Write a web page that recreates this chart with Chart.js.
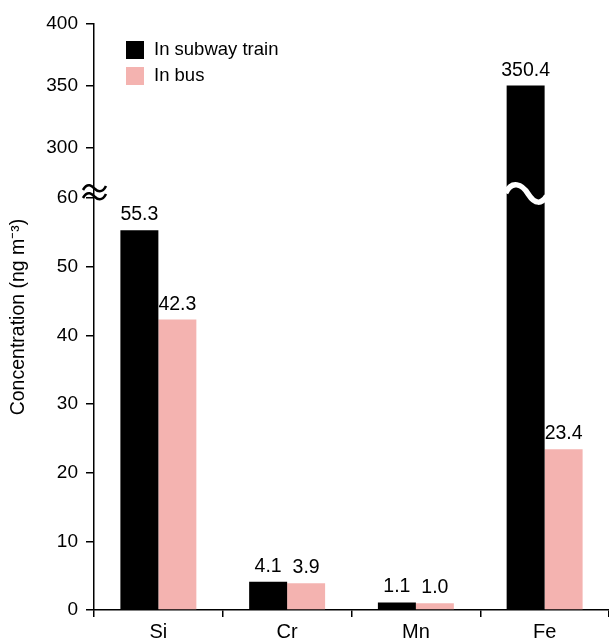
<!DOCTYPE html>
<html>
<head>
<meta charset="utf-8">
<script src="https://cdn.jsdelivr.net/npm/chart.js@4.4.1/dist/chart.umd.min.js"></script>
<style>
   html, body { margin: 0; padding: 0; background: #fff; }
   #wrap { width: 609px; height: 643px; position: relative; }
</style>
</head>
<body>
<div id="wrap"><canvas id="chart"></canvas></div>
<script>
const categories = ["Si", "Cr", "Mn", "Fe"];
const subwayValues = [55.3, 4.1, 1.1, 350.4];
const busValues = [42.3, 3.9, 1.0, 23.4];
const seriesNames = ["In subway train", "In bus"];
const seriesColors = ["#000000", "#F4B3B0"];
const yTickValues = [0, 10, 20, 30, 40, 50, 60, 300, 350, 400];

// broken axis: 0-60 kept as is, 300-400 squeezed and moved down over the gap
const BREAK_LOW = 60;
const BREAK_HIGH = 300;
const GAP = 7.28;
const UPPER_SCALE = 0.1806;

function toAxis(v) {
   if (v <= BREAK_LOW) return v;
   return BREAK_LOW + GAP + (Math.max(v, BREAK_HIGH) - BREAK_HIGH) * UPPER_SCALE;
}

const FONT = "'Liberation Sans', Arial, Helvetica, sans-serif";

// value labels over the bars, legend, and the break marks
const decorations = {
   id: "decorations",
   afterDatasetsDraw(chart) {
      const ctx = chart.ctx;
      const yScale = chart.scales.y;
      const raw = [subwayValues, busValues];

      ctx.save();
      ctx.font = "19.5px " + FONT;
      ctx.fillStyle = "#000";
      ctx.textAlign = "center";
      ctx.textBaseline = "alphabetic";
      chart.data.datasets.forEach((ds, di) => {
         chart.getDatasetMeta(di).data.forEach((bar, i) => {
            ctx.fillText(raw[di][i].toFixed(1), bar.x, bar.y - 10);
         });
      });

      // wave cut on bars that pass the break
      const yBreak = yScale.getPixelForValue(BREAK_LOW) - 6;
      chart.data.datasets.forEach((ds, di) => {
         chart.getDatasetMeta(di).data.forEach((bar, i) => {
            if (raw[di][i] <= BREAK_HIGH) return;
            const l = bar.x - bar.width / 2 - 1;
            const r = bar.x + bar.width / 2 + 2;
            const w = r - l;
            ctx.strokeStyle = "#fff";
            ctx.lineWidth = 5.5;
            ctx.beginPath();
            ctx.moveTo(l, yBreak + 1);
            ctx.bezierCurveTo(l + w * 0.15, yBreak - 12, l + w * 0.4, yBreak - 8, l + w * 0.55, yBreak + 2);
            ctx.bezierCurveTo(l + w * 0.72, yBreak + 13, l + w * 0.88, yBreak + 12, r, yBreak + 4);
            ctx.stroke();
         });
      });

      // ≈ on the y axis
      const ax = yScale.right;
      ctx.strokeStyle = "#000";
      ctx.lineWidth = 2.6;
      [yBreak - 4, yBreak + 4].forEach((yy) => {
         ctx.beginPath();
         ctx.moveTo(ax - 11, yy + 2);
         ctx.bezierCurveTo(ax - 6, yy - 7, ax - 1, yy - 1, ax + 1, yy + 1);
         ctx.bezierCurveTo(ax + 3, yy + 3, ax + 8, yy + 6, ax + 12, yy - 2);
         ctx.stroke();
      });

      // legend
      const lx = 126, ly = 41;
      ctx.textAlign = "left";
      ctx.textBaseline = "middle";
      ctx.font = "18.5px " + FONT;
      seriesNames.forEach((name, i) => {
         ctx.fillStyle = seriesColors[i];
         ctx.fillRect(lx, ly + i * 26, 18, 18);
         ctx.fillStyle = "#000";
         ctx.fillText(name, lx + 28, ly + i * 26 + 9);
      });
      ctx.restore();
   },
};

const ctx = document.getElementById("chart").getContext("2d");
const chart = new Chart(ctx, {
   type: "bar",
   data: {
      labels: categories,
      datasets: [
         {
            label: seriesNames[0],
            data: subwayValues.map(toAxis),
            backgroundColor: seriesColors[0],
            categoryPercentage: 0.59,
            barPercentage: 1.0,
         },
         {
            label: seriesNames[1],
            data: busValues.map(toAxis),
            backgroundColor: seriesColors[1],
            categoryPercentage: 0.59,
            barPercentage: 1.0,
         },
      ],
   },
   options: {
      responsive: true,
      maintainAspectRatio: false,
      animation: false,
      layout: { padding: { top: 24, right: -2, bottom: 0, left: 0 } },
      plugins: {
         legend: { display: false },
         tooltip: { enabled: false },
      },
      scales: {
         x: {
            offset: true,
            border: { display: true, color: "#000", width: 1.5 },
            grid: {
               offset: true,
               drawOnChartArea: false,
               drawTicks: true,
               tickLength: 7,
               color: "#000",
               lineWidth: 1.5,
            },
            ticks: {
               color: "#000",
               padding: 3,
               font: { family: FONT, size: 20 },
            },
            afterFit(scale) {
               scale.height = 33;
            },
         },
         y: {
            min: 0,
            max: toAxis(400),
            border: { display: true, color: "#000", width: 1.5 },
            grid: {
               drawOnChartArea: false,
               drawTicks: true,
               tickLength: 8,
               color: "#000",
               lineWidth: 1.5,
            },
            afterBuildTicks(scale) {
               scale.ticks = yTickValues.map((v) => ({ value: toAxis(v) }));
            },
            ticks: {
               color: "#000",
               padding: 8,
               font: { family: FONT, size: 19 },
               callback: function (value, index) {
                  return String(yTickValues[index]);
               },
            },
            title: {
               display: true,
               text: "Concentration (ng m\u207B\u00B3)",
               color: "#000",
               font: { family: FONT, size: 19.5 },
               padding: { top: 7, bottom: 0 },
            },
            afterFit(scale) {
               scale.width = 94;
            },
         },
      },
   },
   plugins: [decorations],
});
</script>
</body>
</html>
